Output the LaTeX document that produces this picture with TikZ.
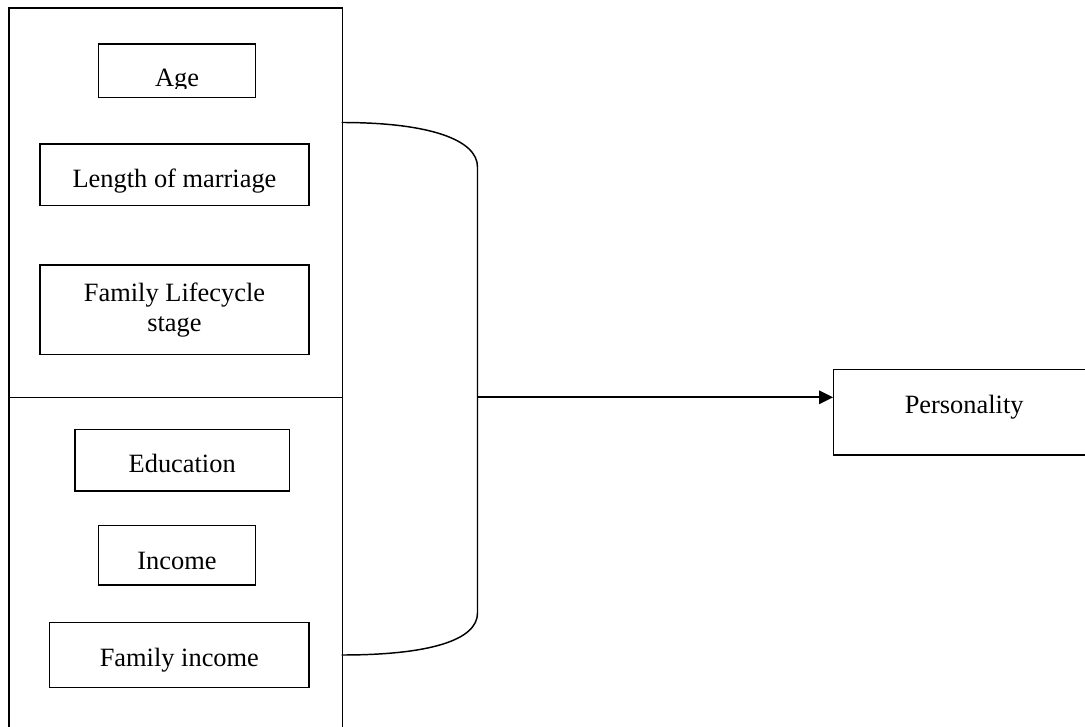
\documentclass[tikz,border=0pt]{standalone}
\usepackage{fontspec}
\setmainfont{Liberation Serif}
\usetikzlibrary{arrows.meta}

\begin{document}
\begin{tikzpicture}[x=0.75pt,y=-0.75pt,
        box/.style={draw,line width=1pt,inner sep=0pt,font=\fontsize{19.8}{22.5}\selectfont},
        textlow/.style={text height=#1,text depth=0pt}]
    \useasboundingbox (0,0) rectangle (1085,727);
    \clip (0,0) rectangle (1085,727);

    % left panel, cut off at the bottom
    \node[draw,line width=0.9pt,anchor=north west,minimum width=250pt,minimum height=555pt] (panel) at (8.3,7.5) {};
    \coordinate (join) at (477.5,397.3);
    \draw[line width=0.9pt] (panel.west |- join) -- (panel.east |- join);

    \begin{scope}[every node/.style={box}]
        \node[minimum width=117.45pt,minimum height=40pt] (age) at (177,70.7) {};
        \node[textlow=19.65pt,minimum width=201.75pt,minimum height=46.3pt] (marriage) at (174.5,174.9) {Length of marriage};
        \node[align=center,minimum width=201.75pt,minimum height=67pt] (lifecycle) at (174.5,309.7) {Family Lifecycle\\stage};
        \node[textlow=18.75pt,minimum width=160.7pt,minimum height=46.3pt] (education) at (182.2,460.2) {Education};
        \node[textlow=20.4pt,minimum width=117.45pt,minimum height=44.5pt] (income) at (177,555.4) {Income};
        \node[textlow=17.25pt,minimum width=194.5pt,minimum height=48.75pt] (famincome) at (179.35,655.2) {Family income};
        \node[textlow=1.65pt,anchor=west,minimum width=195.75pt,minimum height=64.3pt] (personality) at (833,412.2) {Personality};
    \end{scope}

    % the age label is cut off just under its baseline
    \begin{scope}
        \clip (age.north west) rectangle ([yshift=7.5pt]age.south east);
        \node[box,draw=none,anchor=base] (agetext) at (177,86.7) {Age};
    \end{scope}

    % bracket joining both groups
    \coordinate (bracetop) at (341.7,122.5);
    \coordinate (bracebot) at (341.7,655);
    \draw[line width=1.1pt] (bracetop) .. controls (430,122.5) and (477.5,140) .. (477.5,167)
        -- (477.5,613) .. controls (477.5,640) and (430,655) .. (bracebot);

    \draw[line width=1.5pt,-{Triangle[length=10.5pt,width=10pt]}] (join) -- (join -| personality.west);
\end{tikzpicture}
\end{document}
